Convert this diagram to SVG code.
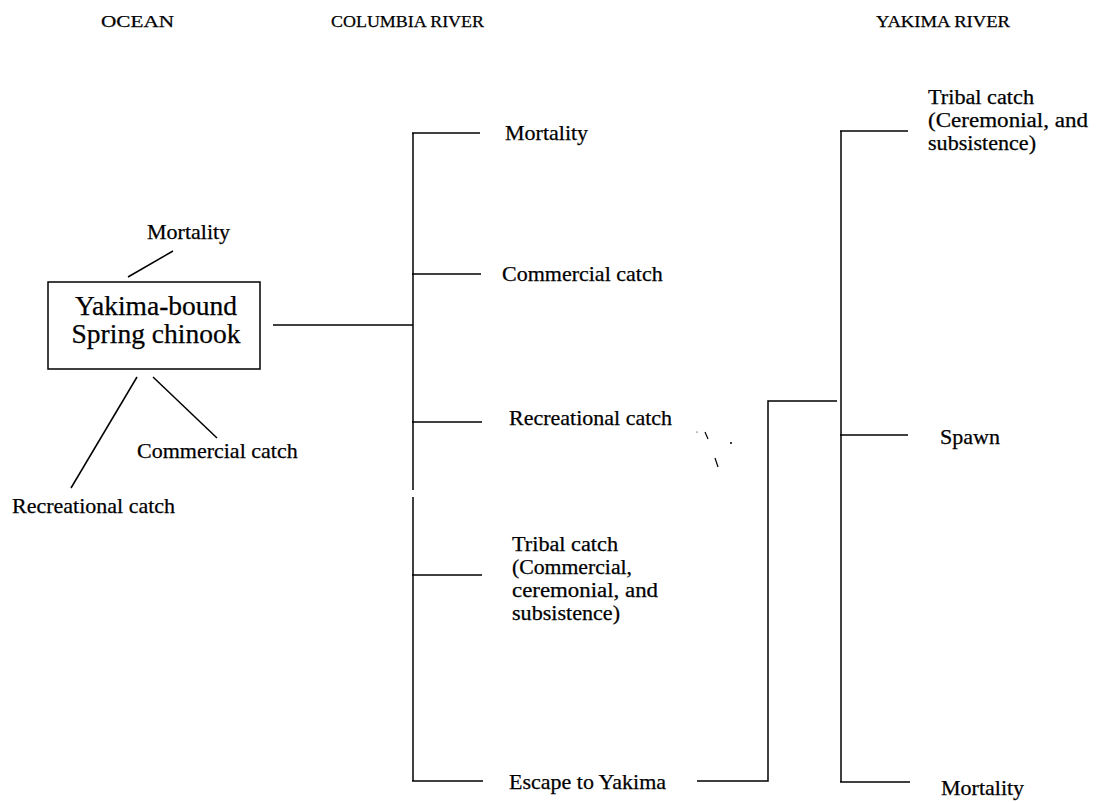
<svg xmlns="http://www.w3.org/2000/svg" width="1096" height="802" viewBox="0 0 1096 802">
<style>
text{font-family:"Liberation Serif","Times New Roman",serif;fill:#000;stroke:#000;stroke-width:0.25;}
.h{font-size:17px;}
.l{font-size:22px;}
.m{font-size:20px;}
.t{font-size:27.5px;}
.c{stroke:#000;stroke-width:1.5;fill:none;}
</style>
<rect width="1096" height="802" fill="#fff"/>
<g id="headers">
<text class="h" x="101" y="27" textLength="73" lengthAdjust="spacingAndGlyphs">OCEAN</text>
<text class="h" x="331" y="27" textLength="153" lengthAdjust="spacingAndGlyphs">COLUMBIA RIVER</text>
<text class="h" x="876" y="27" textLength="134" lengthAdjust="spacingAndGlyphs">YAKIMA RIVER</text>
</g>
<g id="connectors" class="c">
<line x1="173" y1="251" x2="128" y2="277"/>
<line x1="137" y1="377" x2="71" y2="488"/>
<line x1="153" y1="377" x2="217" y2="438"/>
<line x1="273" y1="325" x2="413" y2="325"/>
<line x1="413" y1="133" x2="413" y2="490"/>
<line x1="413" y1="497" x2="413" y2="781"/>
<line x1="412" y1="133" x2="480" y2="133"/>
<line x1="412" y1="274" x2="481" y2="274"/>
<line x1="412" y1="422" x2="482" y2="422"/>
<line x1="412" y1="575" x2="482" y2="575"/>
<line x1="412" y1="781" x2="483" y2="781"/>
<polyline points="697,781 768,781 768,401 837,401"/>
<line x1="841" y1="131" x2="841" y2="782"/>
<line x1="840" y1="131" x2="908" y2="131"/>
<line x1="840" y1="435" x2="908" y2="435"/>
<line x1="840" y1="782" x2="910" y2="782"/>
</g>
<g id="specks" stroke="#000" stroke-width="1.2" fill="#000">
<circle cx="697" cy="432" r="0.6" stroke="none"/>
<line x1="705" y1="432" x2="708" y2="439"/>
<circle cx="731" cy="443" r="1" stroke="none"/>
<line x1="715" y1="458" x2="718" y2="467"/>
</g>
<g id="node-source">
<rect x="48" y="282" width="212" height="87" fill="none" stroke="#000" stroke-width="1.5"/>
<text class="t" x="156" y="315" text-anchor="middle">Yakima-bound</text>
<text class="t" x="156" y="343" text-anchor="middle">Spring chinook</text>
</g>
<g id="node-ocean-mortality"><text class="l" x="147" y="239">Mortality</text></g>
<g id="node-ocean-commercial"><text class="l" x="137" y="458">Commercial catch</text></g>
<g id="node-ocean-recreational"><text class="l" x="12" y="513">Recreational catch</text></g>
<g id="node-col-mortality"><text class="l" x="505" y="140">Mortality</text></g>
<g id="node-col-commercial"><text class="l" x="502" y="281">Commercial catch</text></g>
<g id="node-col-recreational"><text class="l" x="509" y="425">Recreational catch</text></g>
<g id="node-col-tribal">
<text class="m" x="512" y="551" textLength="106" lengthAdjust="spacingAndGlyphs">Tribal catch</text>
<text class="m" x="512" y="574" textLength="120" lengthAdjust="spacingAndGlyphs">(Commercial,</text>
<text class="m" x="512" y="597" textLength="146" lengthAdjust="spacingAndGlyphs">ceremonial, and</text>
<text class="m" x="512" y="620" textLength="108" lengthAdjust="spacingAndGlyphs">subsistence)</text>
</g>
<g id="node-col-escape"><text class="l" x="509" y="789">Escape to Yakima</text></g>
<g id="node-yak-tribal">
<text class="m" x="928" y="104" textLength="106" lengthAdjust="spacingAndGlyphs">Tribal catch</text>
<text class="m" x="928" y="127" textLength="160" lengthAdjust="spacingAndGlyphs">(Ceremonial, and</text>
<text class="m" x="928" y="150" textLength="108" lengthAdjust="spacingAndGlyphs">subsistence)</text>
</g>
<g id="node-yak-spawn"><text class="l" x="940" y="444">Spawn</text></g>
<g id="node-yak-mortality"><text class="l" x="941" y="795">Mortality</text></g>
</svg>
